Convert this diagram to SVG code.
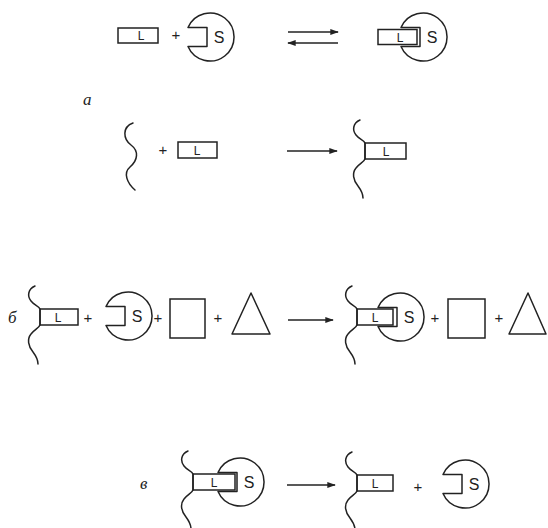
<svg xmlns="http://www.w3.org/2000/svg" xmlns:xlink="http://www.w3.org/1999/xlink" width="548" height="528" viewBox="0 0 548 528">
<style>
.ln{fill:none;stroke:#222;stroke-width:1.5;stroke-linejoin:round;stroke-linecap:round}
.rc{fill:none;stroke:#222;stroke-width:1.5}
.ar{fill:none;stroke:#222;stroke-width:1.3}
.L{font-family:"Liberation Sans","DejaVu Sans",sans-serif;font-size:12px;fill:#222;text-anchor:middle}
.S{font-family:"Liberation Sans","DejaVu Sans",sans-serif;font-size:16px;fill:#222;text-anchor:middle}
.p{font-family:"Liberation Sans","DejaVu Sans",sans-serif;font-size:15px;fill:#222;text-anchor:middle}
.lab{font-family:"Liberation Serif","DejaVu Serif",serif;font-style:italic;font-size:17px;fill:#222}
</style>
<defs>
<marker id="ah" viewBox="0 0 10 7" refX="9" refY="3.5" markerWidth="9" markerHeight="6" orient="auto" markerUnits="userSpaceOnUse">
<path d="M0,0 L10,3.5 L0,7 z" fill="#222"/>
</marker>
<path id="rec" class="ln" d="M-22,-9.5 L-3,-9.5 L-3,9.5 L-22,9.5 A24,24 0 1 0 -22,-9.5"/>
<path id="brk" class="ln" d="M-5,-23 C-12,-20 -13,-13 -9,-8 C-6,-4 -1,-3 0,0 L0,16 C-1,19 -6,21 -9,25 C-13,30 -12,37 -7,43 C-4,47 -2,51 -2,55"/>
</defs>
<rect width="548" height="528" fill="#fff"/>

<g id="connectors">
<line class="ar" x1="288" y1="32" x2="338" y2="32" marker-end="url(#ah)"/>
<line class="ar" x1="338" y1="43" x2="288" y2="43" marker-end="url(#ah)"/>
<line class="ar" x1="287" y1="151" x2="337" y2="151" marker-end="url(#ah)"/>
<line class="ar" x1="288" y1="320" x2="333" y2="320" marker-end="url(#ah)"/>
<line class="ar" x1="287" y1="485" x2="335" y2="485" marker-end="url(#ah)"/>
</g>

<g id="row-top">
<g id="top-ligand"><rect class="rc" x="118" y="28" width="40" height="15"/><text class="L" x="141" y="40">L</text></g>
<text class="p" x="176" y="40">+</text>
<g id="top-receptor"><use xlink:href="#rec" transform="translate(210,37)"/><text class="S" x="219" y="43">S</text></g>
<g id="top-complex"><rect class="rc" x="378" y="29.5" width="39" height="15"/><text class="L" x="400" y="41.5">L</text><use xlink:href="#rec" transform="translate(423,37)"/><text class="S" x="432" y="43">S</text></g>
</g>

<text class="lab" x="83" y="105">а</text>
<g id="row-a">
<g id="a-chain"><path class="ln" d="M133,123 C122,127 123,139 131,145 C139,151 138,160 130,167 C123,173 127,183 135,190"/></g>
<text class="p" x="163" y="155">+</text>
<g id="a-ligand"><rect class="rc" x="178" y="142" width="39" height="16"/><text class="L" x="197" y="154.5">L</text></g>
<g id="a-bound"><use xlink:href="#brk" transform="translate(365,143)"/><rect class="rc" x="365" y="143" width="41" height="16"/><text class="L" x="386" y="155.5">L</text></g>
</g>

<text class="lab" x="8" y="323">б</text>
<g id="row-b">
<g id="b-bound"><use xlink:href="#brk" transform="translate(40,309)"/><rect class="rc" x="40" y="309" width="38" height="16"/><text class="L" x="58" y="321.5">L</text></g>
<text class="p" x="88" y="323">+</text>
<g id="b-receptor"><use xlink:href="#rec" transform="translate(128,316)"/><text class="S" x="137" y="322">S</text></g>
<text class="p" x="158" y="323">+</text>
<g id="b-square1"><rect class="rc" x="170" y="299" width="35" height="39"/></g>
<text class="p" x="218" y="323">+</text>
<g id="b-tri1"><path class="ln" d="M251,293 L270,334 L232,334 Z"/></g>
<g id="b-complex"><use xlink:href="#brk" transform="translate(357,309)"/><rect class="rc" x="357" y="309" width="36" height="16"/><text class="L" x="375" y="321.5">L</text><use xlink:href="#rec" transform="translate(400,317)"/><text class="S" x="409" y="323">S</text></g>
<text class="p" x="435" y="323">+</text>
<g id="b-square2"><rect class="rc" x="448" y="299" width="37" height="39"/></g>
<text class="p" x="499" y="323">+</text>
<g id="b-tri2"><path class="ln" d="M528,293 L546,334 L509,334 Z"/></g>
</g>

<text class="lab" x="140" y="489">в</text>
<g id="row-c">
<g id="c-complex"><use xlink:href="#brk" transform="translate(193,474)"/><rect class="rc" x="193" y="474" width="42" height="16"/><text class="L" x="214" y="486.5">L</text><use xlink:href="#rec" transform="translate(240,482)"/><text class="S" x="249" y="488">S</text></g>
<g id="c-bound"><use xlink:href="#brk" transform="translate(357,475)"/><rect class="rc" x="357" y="475" width="36" height="16"/><text class="L" x="375" y="487.5">L</text></g>
<text class="p" x="418" y="492">+</text>
<g id="c-receptor"><use xlink:href="#rec" transform="translate(465,484)"/><text class="S" x="474" y="490">S</text></g>
</g>
</svg>
